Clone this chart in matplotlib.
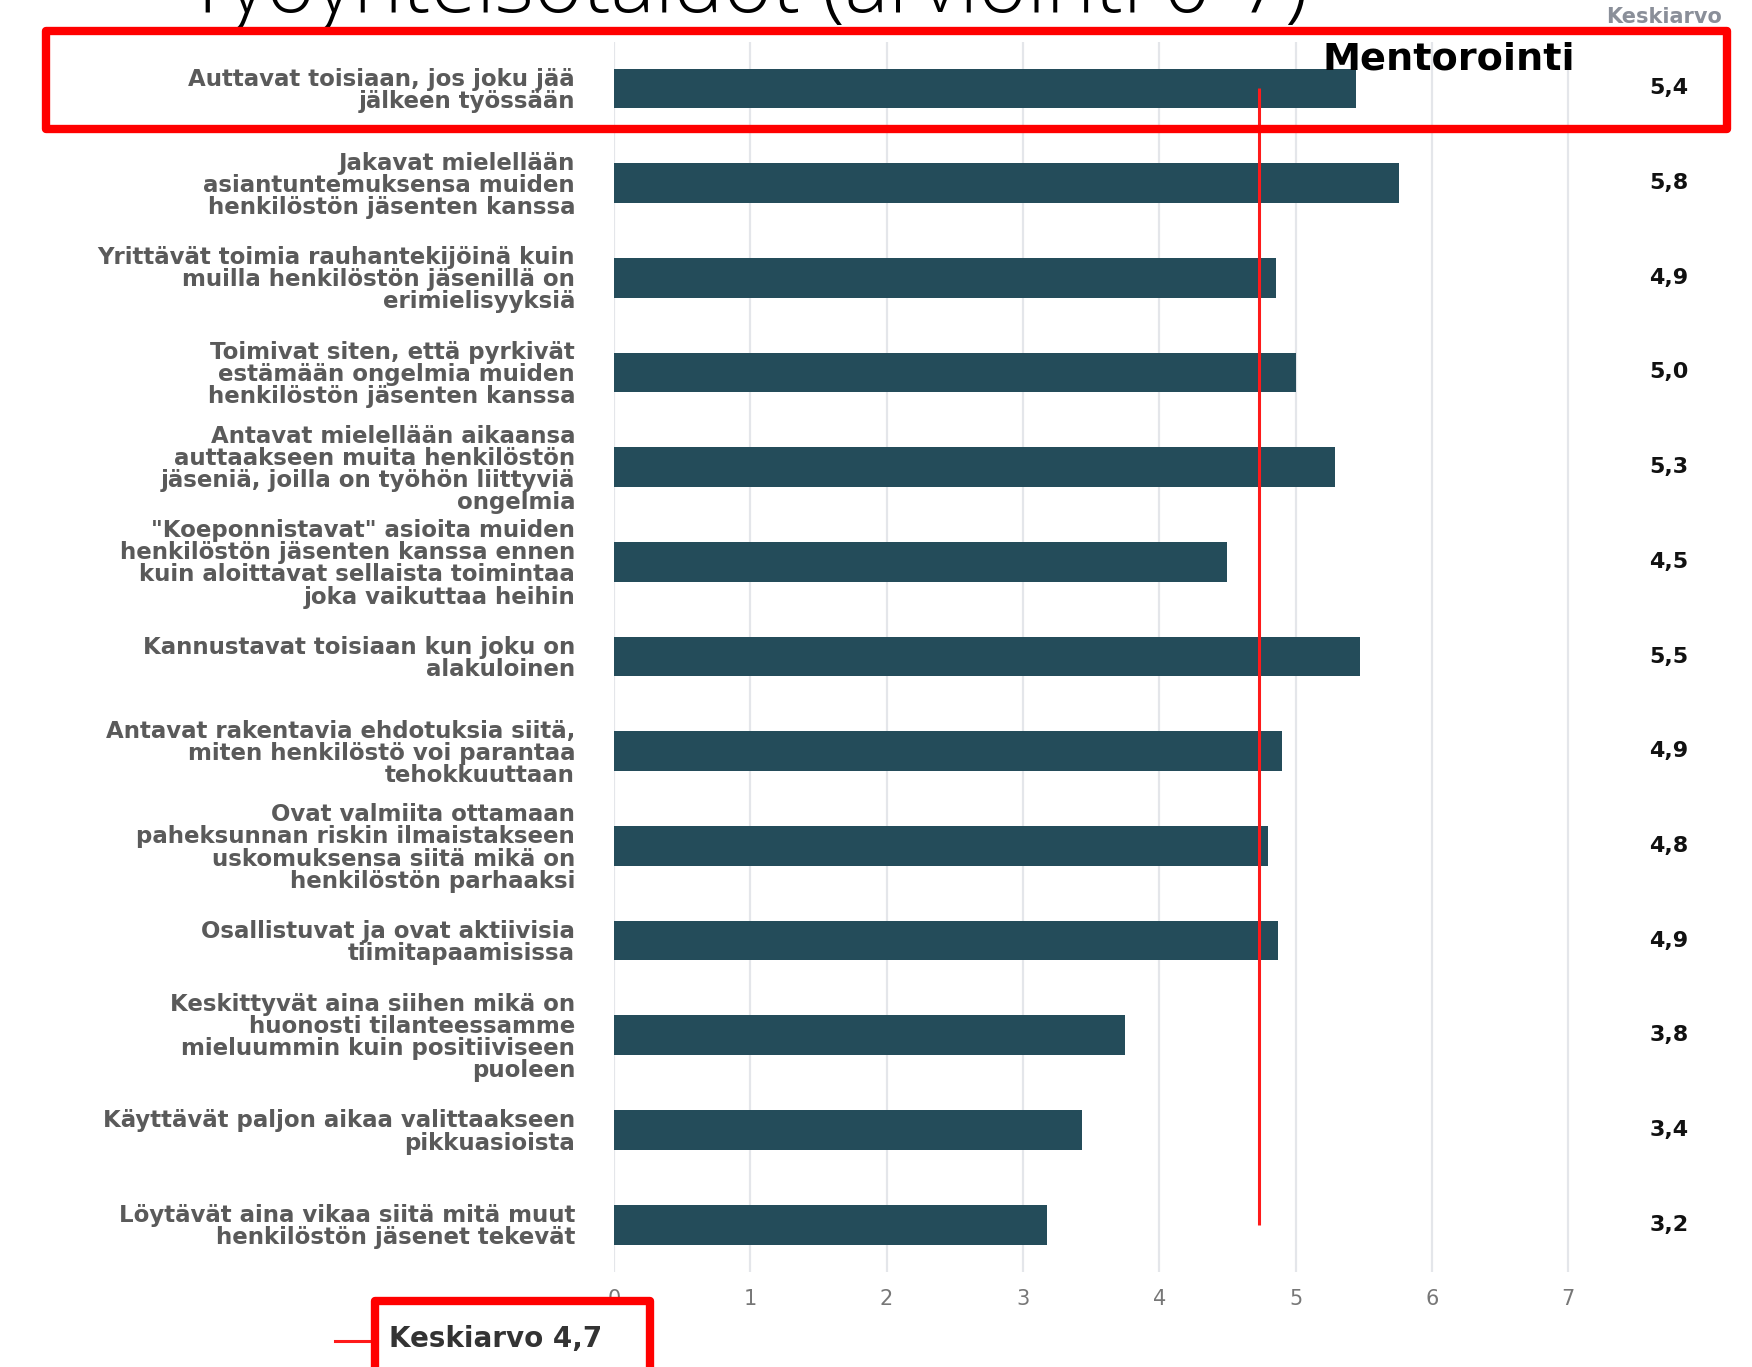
import matplotlib
matplotlib.use("Agg")
import matplotlib.pyplot as plt
from matplotlib.patches import Rectangle
from matplotlib.transforms import blended_transform_factory

# data
labels = [
    "Auttavat toisiaan, jos joku jää\njälkeen työssään",
    "Jakavat mielellään\nasiantuntemuksensa muiden\nhenkilöstön jäsenten kanssa",
    "Yrittävät toimia rauhantekijöinä kuin\nmuilla henkilöstön jäsenillä on\nerimielisyyksiä",
    "Toimivat siten, että pyrkivät\nestämään ongelmia muiden\nhenkilöstön jäsenten kanssa",
    "Antavat mielellään aikaansa\nauttaakseen muita henkilöstön\njäseniä, joilla on työhön liittyviä\nongelmia",
    "\"Koeponnistavat\" asioita muiden\nhenkilöstön jäsenten kanssa ennen\nkuin aloittavat sellaista toimintaa\njoka vaikuttaa heihin",
    "Kannustavat toisiaan kun joku on\nalakuloinen",
    "Antavat rakentavia ehdotuksia siitä,\nmiten henkilöstö voi parantaa\ntehokkuuttaan",
    "Ovat valmiita ottamaan\npaheksunnan riskin ilmaistakseen\nuskomuksensa siitä mikä on\nhenkilöstön parhaaksi",
    "Osallistuvat ja ovat aktiivisia\ntiimitapaamisissa",
    "Keskittyvät aina siihen mikä on\nhuonosti tilanteessamme\nmieluummin kuin positiiviseen\npuoleen",
    "Käyttävät paljon aikaa valittaakseen\npikkuasioista",
    "Löytävät aina vikaa siitä mitä muut\nhenkilöstön jäsenet tekevät",
]
values = [5.44, 5.76, 4.86, 5.0, 5.29, 4.5, 5.47, 4.9, 4.8, 4.87, 3.75, 3.43, 3.18]
mean_value = 4.73
mean_label = "Keskiarvo 4,7"
xticks = [0, 1, 2, 3, 4, 5, 6, 7]
title = "Työyhteisötaidot (arviointi 0-7)"

W, H = 1752, 1367
fig = plt.figure(figsize=(W / 100, H / 100), dpi=100)
fig.patch.set_facecolor("white")

# axes placed in pixel terms of the reference
x0, x1 = 614, 1575
y_top, y_bot = 42, 1272
ax = fig.add_axes([x0 / W, 1 - y_bot / H, (x1 - x0) / W, (y_bot - y_top) / H])

ypos = list(range(len(values)))
ax.barh(ypos, values, height=0.42, color="#244c5a", zorder=3)
ax.vlines(mean_value, 0, len(values) - 1, color="#ff1a1a", lw=2.2, zorder=4)

ax.set_xlim(0, 7.05)
ax.set_ylim(len(values) - 0.5, -0.49)
ax.set_xticks(xticks)
ax.set_xticklabels([str(t) for t in xticks], fontsize=15, color="#777777")
ax.set_yticks(ypos)
ax.set_yticklabels(labels, fontsize=16.5, fontweight="bold", color="#5a5a5a")
for t in ax.get_yticklabels():
    t.set_linespacing(0.95)
    t.set_multialignment("right")
ax.tick_params(axis="both", length=0)
ax.tick_params(axis="y", pad=28)
ax.tick_params(axis="x", pad=12)
ax.grid(axis="x", color="#e4e6ea", lw=1.6, zorder=0)
for s in ax.spines.values():
    s.set_visible(False)

# value column on the right
tr = blended_transform_factory(fig.transFigure, ax.transData)
for y, v in zip(ypos, values):
    ax.text(1669 / W, y, f"{v:.1f}".replace(".", ","), transform=tr, ha="center",
            va="center", fontsize=16, fontweight="bold", color="#111111")
fig.text(1664 / W, 1 - 17 / H, "Keskiarvo", ha="center", va="center", fontsize=15,
         fontweight="bold", color="#8a8f99")

# title, cut off at the top like in the slide
fig.text(186 / W, 1 - 12 / H, title, ha="left", va="baseline", fontsize=60,
         family=["Open Sans", "DejaVu Sans"], fontweight="light", color="black")
fig.text(1322 / W, 1 - 70 / H, "Mentorointi", ha="left", va="baseline", fontsize=27.5,
         fontweight="bold", color="black")

# legend for the mean line
fig.add_artist(plt.Line2D([335 / W, 370 / W], [1 - 1341 / H, 1 - 1341 / H],
                          color="#ff1a1a", lw=2.2))
fig.text(389 / W, 1 - 1339 / H, mean_label, ha="left", va="center", fontsize=20,
         fontweight="bold", color="#333333")

# red highlight boxes
fig.add_artist(Rectangle((46 / W, 1 - 129 / H), (1727 - 46) / W, (129 - 31) / H,
                         transform=fig.transFigure, fill=False, ec="#ff0000", lw=6,
                         joinstyle="round", zorder=10))
fig.add_artist(Rectangle((375 / W, 1 - 1400 / H), (650 - 375) / W, (1400 - 1301) / H,
                         transform=fig.transFigure, fill=False, ec="#ff0000", lw=6,
                         joinstyle="round", zorder=10))

fig.savefig("out.png", dpi=100, facecolor="white")
